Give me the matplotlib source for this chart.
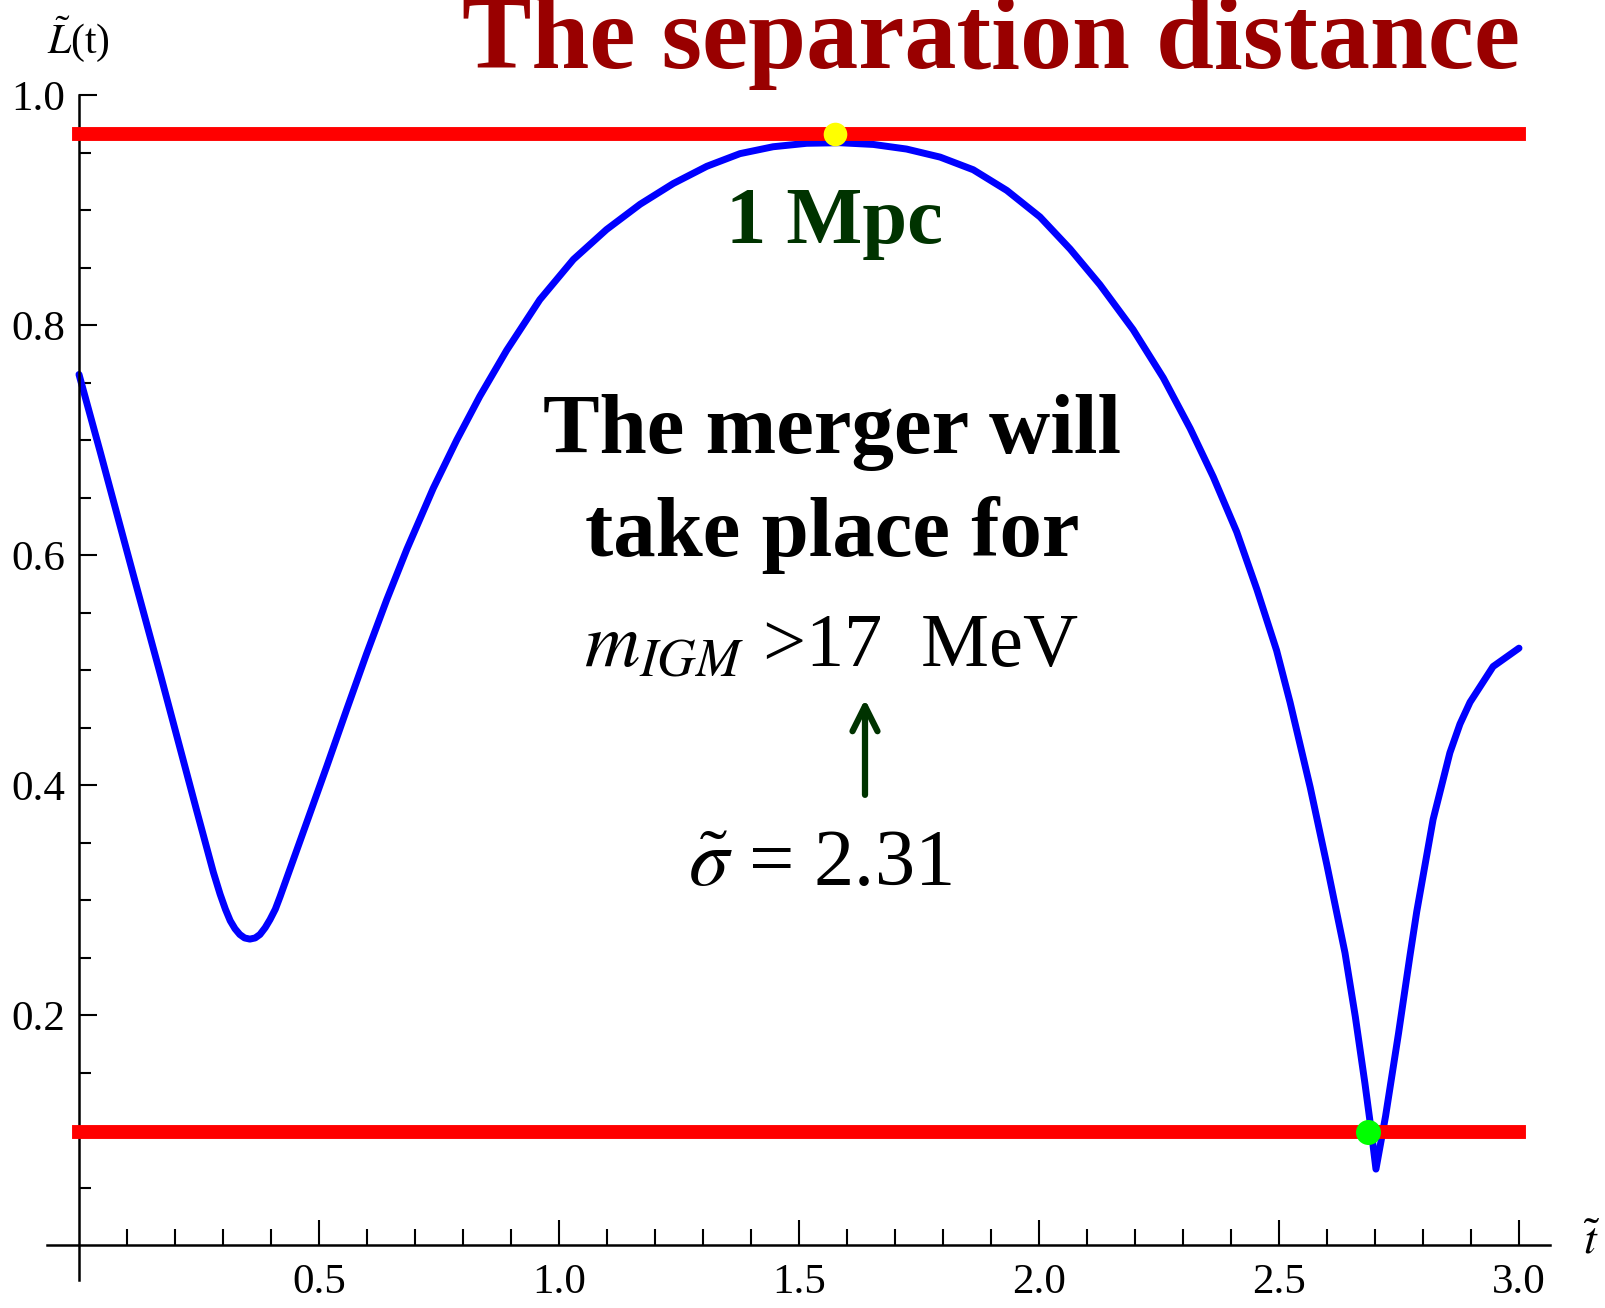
import numpy as np
import matplotlib.pyplot as plt
from matplotlib.ticker import FixedLocator

plt.rcParams['font.family'] = ['Liberation Serif', 'DejaVu Serif']
plt.rcParams['mathtext.fontset'] = 'stix'

# separation distance L~(t)
t_vals = [0.000, 0.044, 0.113, 0.169, 0.2035, 0.245, 0.280, 0.294, 0.305, 0.315,
          0.325, 0.335, 0.345, 0.356, 0.367, 0.377, 0.388, 0.398, 0.409, 0.419,
          0.474, 0.516, 0.558, 0.599, 0.641, 0.683, 0.738, 0.787, 0.835, 0.891,
          0.960, 1.030, 1.099, 1.169, 1.238, 1.308, 1.377, 1.446, 1.516, 1.585,
          1.655, 1.724, 1.794, 1.863, 1.933, 2.002, 2.065, 2.127, 2.196, 2.259,
          2.315, 2.363, 2.412, 2.454, 2.495, 2.523, 2.565, 2.600, 2.6375, 2.659,
          2.679, 2.692, 2.702, 2.722, 2.749, 2.773, 2.787, 2.821, 2.856, 2.877,
          2.898, 2.946, 3.000]
L_vals = [0.757, 0.690, 0.583, 0.497, 0.443, 0.378, 0.324, 0.305, 0.292, 0.282,
          0.275, 0.270, 0.267, 0.266, 0.267, 0.270, 0.276, 0.283, 0.292, 0.303,
          0.367, 0.416, 0.466, 0.514, 0.561, 0.605, 0.658, 0.700, 0.738, 0.778,
          0.822, 0.857, 0.883, 0.905, 0.923, 0.938, 0.949, 0.955, 0.958, 0.9585,
          0.957, 0.953, 0.946, 0.935, 0.917, 0.894, 0.866, 0.835, 0.796, 0.754,
          0.710, 0.668, 0.620, 0.570, 0.517, 0.472, 0.398, 0.330, 0.254, 0.1985,
          0.1406, 0.100, 0.066, 0.112, 0.184, 0.252, 0.290, 0.370, 0.428, 0.453,
          0.472, 0.503, 0.519]

upper_level = 0.966   # 1 Mpc
lower_level = 0.098   # merger threshold
t_peak = 1.575
t_merge = 2.686

x_major = [0.5, 1.0, 1.5, 2.0, 2.5, 3.0]
x_minor = [0.1, 0.2, 0.3, 0.4, 0.6, 0.7, 0.8, 0.9, 1.1, 1.2, 1.3, 1.4,
           1.6, 1.7, 1.8, 1.9, 2.1, 2.2, 2.3, 2.4, 2.6, 2.7, 2.8, 2.9]
y_major = [0.2, 0.4, 0.6, 0.8, 1.0]
y_minor = [0.05, 0.1, 0.15, 0.25, 0.3, 0.35, 0.45, 0.5, 0.55,
           0.65, 0.7, 0.75, 0.85, 0.9, 0.95]

W, H = 1605, 1308
fig = plt.figure(figsize=(W / 100, H / 100), dpi=100)
ax = fig.add_axes([31 / W, 5.5 / H, 1536 / W, 1207.5 / H])
ax.set_xlim(-0.1, 3.1)
ax.set_ylim(-0.05, 1.0)

# axes crossing at the origin
for side in ['top', 'right']:
    ax.spines[side].set_visible(False)
ax.spines['left'].set_position(('data', 0))
ax.spines['bottom'].set_position(('data', 0))
ax.spines['left'].set_bounds(-0.03, 1.0)
ax.spines['bottom'].set_bounds(-0.067, 3.065)
for side in ['left', 'bottom']:
    ax.spines[side].set_linewidth(1.8)

ax.xaxis.set_major_locator(FixedLocator(x_major))
ax.xaxis.set_minor_locator(FixedLocator(x_minor))
ax.yaxis.set_major_locator(FixedLocator(y_major))
ax.yaxis.set_minor_locator(FixedLocator(y_minor))
ax.set_xticklabels(['%.1f' % v for v in x_major])
ax.set_yticklabels(['%.1f' % v for v in y_major])
ax.tick_params(axis='x', which='major', direction='in', length=18, width=1.5,
               pad=13, labelsize=31)
ax.tick_params(axis='x', which='minor', direction='in', length=11.5, width=1.5)
ax.tick_params(axis='y', which='major', direction='in', length=13, width=1.5,
               pad=10, labelsize=31)
ax.tick_params(axis='y', which='minor', direction='in', length=8.5, width=1.5)

ax.plot(t_vals, L_vals, color='#0000ff', lw=5, solid_joinstyle='round',
        solid_capstyle='round', zorder=2)
ax.plot([0, 3.0], [upper_level, upper_level], color='#ff0000', lw=10,
        solid_capstyle='projecting', zorder=3)
ax.plot([0, 3.0], [lower_level, lower_level], color='#ff0000', lw=10,
        solid_capstyle='projecting', zorder=3)
ax.plot([t_peak], [upper_level], 'o', color='#ffff00', ms=17, mec='none', zorder=4)
ax.plot([t_merge], [lower_level], 'o', color='#00ff00', ms=18, mec='none', zorder=4)

dark_green = '#003300'
ax.text(1.573, 0.871, '1 Mpc', color=dark_green, fontsize=58, fontweight='bold',
        ha='center', va='baseline')
ax.text(1.569, 0.689, 'The merger will', fontsize=61, fontweight='bold',
        ha='center', va='baseline')
ax.text(1.569, 0.599, 'take place for', fontsize=61, fontweight='bold',
        ha='center', va='baseline')
ax.text(1.567, 0.503, r'$m_{IGM}$ >17  MeV', fontsize=55,
        ha='center', va='baseline')
ax.text(1.544, 0.313, r'$\tilde{\sigma}$ = 2.31', fontsize=58,
        ha='center', va='baseline')
ax.annotate('', xy=(1.6375, 0.477), xytext=(1.6375, 0.389),
            arrowprops=dict(arrowstyle='->', color=dark_green, lw=4.5,
                            mutation_scale=45))

fig.text(991 / W, 1 - 68 / H, 'The separation distance', color='#990000',
         fontsize=75, fontweight='bold', ha='center', va='baseline')
fig.text(78 / W, 1 - 53 / H, r'$\tilde{L}$(t)', fontsize=30,
         ha='center', va='baseline')
fig.text(1592 / W, 1 - 1254 / H, r'$\tilde{t}$', fontsize=33,
         ha='center', va='baseline')

fig.savefig('out.png', dpi=100)
